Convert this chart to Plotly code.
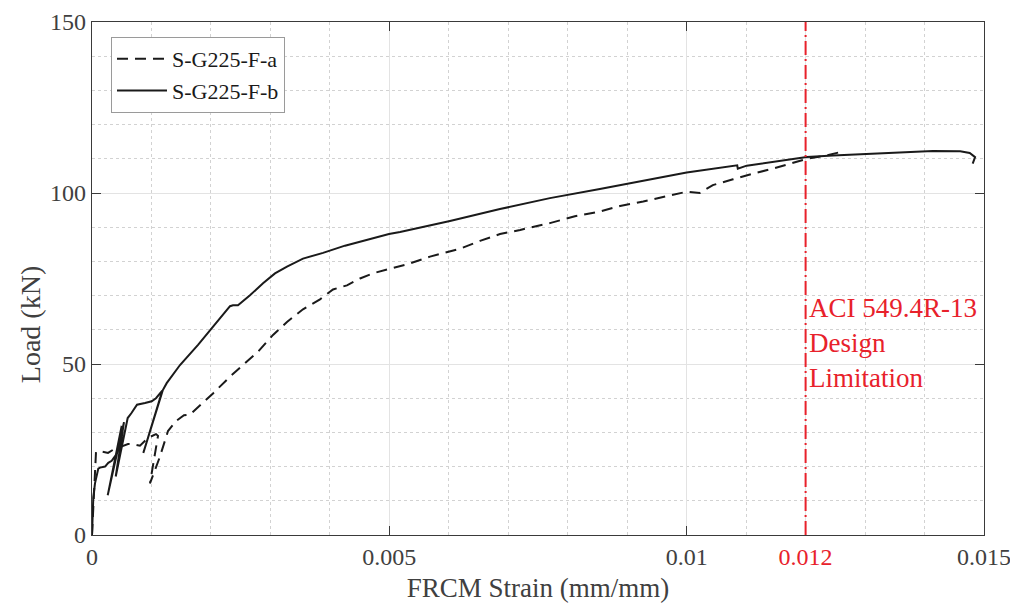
import plotly.graph_objects as go

# ---- data ----
strain_a = [0, 0.0000252, 0.0000504, 0.0000673, 0.000135, 0.000269, 0.000353, 0.000471, 0.000605,
            0.000706, 0.000807, 0.000942, 0.001076, 0.00111, 0.000975, 0.001138, 0.001249, 0.001278,
            0.001413, 0.001547, 0.001648, 0.001816, 0.002035, 0.002321, 0.002539, 0.002791, 0.003044,
            0.003279, 0.003548, 0.003834, 0.004053, 0.004288, 0.004507, 0.004725, 0.005011, 0.005297,
            0.005684, 0.006188, 0.006525, 0.006861, 0.0072, 0.0077, 0.00812, 0.00854, 0.00888, 0.00927,
            0.00967, 0.01001, 0.01022, 0.01044, 0.01078, 0.01112, 0.01145, 0.01179, 0.01202, 0.01236,
            0.01253, 0.01266]
load_a = [0, 10.1, 21.7, 24.3, 24.5, 24.0, 24.9, 25.8, 26.6,
          26.5, 26.1, 28.4, 29.5, 29.0, 15.1, 22.7, 29.0, 30.4,
          33.3, 35.0, 35.2, 37.9, 41.4, 46.3, 49.8, 53.6, 58.5,
          62.3, 66.0, 68.9, 71.8, 73.0, 75.0, 76.5, 77.9, 79.1,
          81.4, 83.7, 86.0, 88.0, 89.2, 91.2, 93.2, 94.6, 96.2, 97.5,
          99.1, 100.4, 100.0, 102.3, 104.0, 105.7, 107.1, 108.8, 110.0, 111.0,
          111.7, 112.3]

strain_b = [0, 0.0000219, 0.0000504, 0.000079, 0.000106, 0.000135, 0.000219, 0.000274, 0.000331,
            0.000415, 0.000499, 0.000264, 0.000538, 0.000399, 0.0006, 0.000661, 0.000757, 0.000891,
            0.001004, 0.001076, 0.001182, 0.000863, 0.001189, 0.001256, 0.00148, 0.001783, 0.002035,
            0.002321, 0.002371, 0.002455, 0.002657, 0.002876, 0.003077, 0.003279, 0.003548, 0.003885,
            0.004254, 0.004675, 0.004994, 0.00518, 0.00602, 0.00686, 0.0077, 0.00854, 0.0091, 0.0100,
            0.01085, 0.01086, 0.01101, 0.01162, 0.01202, 0.01246, 0.01303, 0.01359, 0.01414, 0.0146,
            0.01476, 0.01485, 0.01481]
load_b = [0, 11.0, 15.1, 17.9, 19.4, 19.7, 20.0, 21.1, 21.7,
          23.7, 31.9, 11.6, 33.0, 17.1, 34.2, 35.6, 38.1, 38.6,
          39.1, 40.0, 42.2, 24.0, 42.3, 44.4, 49.7, 55.6, 60.8,
          66.9, 67.2, 67.2, 70.1, 73.6, 76.5, 78.5, 80.8, 82.5,
          84.6, 86.6, 88.0, 88.6, 91.8, 95.3, 98.5, 101.2, 103.1, 106.0,
          108.1, 107.1, 108.0, 109.5, 110.5, 111.0, 111.5, 112.0, 112.3, 112.2,
          111.7, 110.5, 108.6]

series_names = ["S-G225-F-a", "S-G225-F-b"]
design_limit = 0.012
limit_text = "ACI 549.4R-13<br>Design<br>Limitation"
x_title = "FRCM Strain (mm/mm)"
y_title = "Load (kN)"
x_tickvals = [0, 0.005, 0.01, 0.012, 0.015]
x_ticktext = ["0", "0.005", "0.01", "0.012", "0.015"]
y_tickvals = [0, 50, 100, 150]

# ---- styling ----
FONT = "Liberation Serif"
TXT = "#404040"
RED = "#e8212b"
AX = "#3a3a3a"
GRID = "#e3e3e3"
MINOR = "#d2d2d2"

ticktext = [f"<span style='color:{RED}'>{t}</span>" if v == design_limit else t
            for v, t in zip(x_tickvals, x_ticktext)]

fig = go.Figure()
fig.add_trace(go.Scatter(x=strain_a, y=load_a, mode="lines", name=series_names[0],
                         line=dict(color="#1a1a1a", width=2, dash="11px,7px")))
fig.add_trace(go.Scatter(x=strain_b, y=load_b, mode="lines", name=series_names[1],
                         line=dict(color="#1a1a1a", width=2)))

fig.add_vline(x=design_limit, line=dict(color=RED, width=2, dash="14px,4px,2px,4px"))
fig.add_annotation(x=design_limit, y=56, xref="x", yref="y", text=limit_text,
                   showarrow=False, xanchor="left", yanchor="middle", align="left",
                   xshift=1, font=dict(family=FONT, size=27, color=RED))

# y-axis title placed as an annotation (sits a little below the axis centre in the reference)
fig.add_annotation(x=0, y=0.409, xref="paper", yref="paper", text=y_title,
                   textangle=-90, showarrow=False, xanchor="center", yanchor="middle",
                   xshift=-62, font=dict(family=FONT, size=28, color=TXT))

fig.update_xaxes(range=[0, 0.015], tickvals=x_tickvals, ticktext=ticktext,
                 showline=True, linecolor=AX, linewidth=1.3, mirror="ticks",
                 ticks="inside", ticklen=9, tickcolor=AX,
                 showgrid=True, gridcolor=GRID, gridwidth=1,
                 minor=dict(dtick=0.001, tick0=0, showgrid=True, gridcolor=MINOR,
                            griddash="dot", gridwidth=1, ticks=""),
                 zeroline=False, automargin=False, ticklabeloverflow="allow",
                 title=dict(text=x_title, font=dict(family=FONT, size=27, color=TXT), standoff=9),
                 tickfont=dict(family=FONT, size=24, color=TXT))
fig.update_yaxes(range=[0, 150], tickvals=y_tickvals,
                 showline=True, linecolor=AX, linewidth=1.3, mirror="ticks",
                 ticks="inside", ticklen=9, tickcolor=AX,
                 showgrid=True, gridcolor=GRID, gridwidth=1,
                 minor=dict(dtick=10, tick0=0, showgrid=True, gridcolor=MINOR,
                            griddash="dot", gridwidth=1, ticks=""),
                 zeroline=False, automargin=False, ticklabeloverflow="allow",
                 tickfont=dict(family=FONT, size=24, color=TXT))

fig.update_layout(
    width=1010, height=603,
    margin=dict(l=84, r=34, t=14, b=76),
    paper_bgcolor="white", plot_bgcolor="white",
    font=dict(family=FONT, color=TXT),
    legend=dict(x=0.0213, y=0.9708, xanchor="left", yanchor="top",
                bgcolor="white", bordercolor="#9a9a9a", borderwidth=1,
                font=dict(family=FONT, size=22, color="#1a1a1a"),
                tracegroupgap=0, itemwidth=50),
    showlegend=True,
)

fig.write_html("out.html")
